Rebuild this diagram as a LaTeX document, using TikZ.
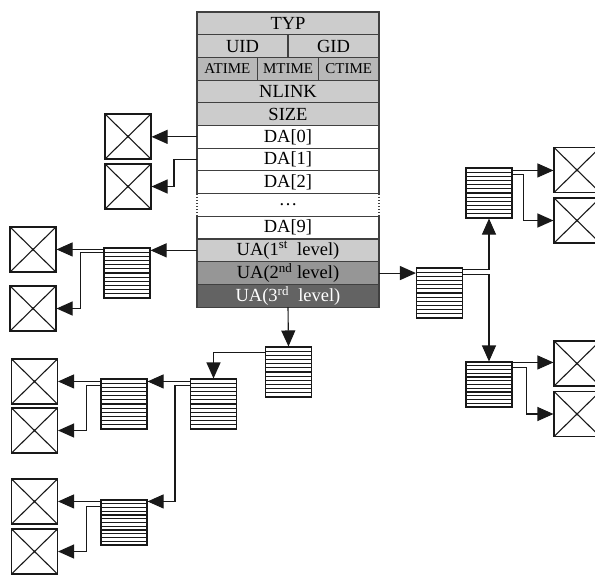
\documentclass[tikz,border=0pt]{standalone}
\usepackage{fontspec}
\setmainfont{Liberation Serif}
\usetikzlibrary{arrows.meta,positioning,calc}
\definecolor{rowgray}{gray}{0.8}
\definecolor{timegray}{gray}{0.72}
\definecolor{ualight}{gray}{0.8}
\definecolor{uamid}{gray}{0.59}
\definecolor{uadark}{gray}{0.39}

\begin{document}
\begin{tikzpicture}[
    x=1pt, y=-1pt,
    line width=1.1pt,
    row/.style={rectangle, draw=black!75, inner sep=0pt, outer sep=0pt, minimum height=22.7pt, minimum width=182pt, font=\fontsize{18.5}{20}\selectfont},
    half/.style={row, minimum width=91pt},
    third/.style={row, minimum width=60.67pt, font=\fontsize{15}{17}\selectfont},
    xbox/.style={rectangle, draw=black!90, minimum width=46pt, minimum height=45pt, inner sep=0pt,
        path picture={\draw[black!90] (path picture bounding box.north west) -- (path picture bounding box.south east)
            (path picture bounding box.north east) -- (path picture bounding box.south west);}},
    iblock/.style={rectangle, draw=black!90, minimum width=46pt, minimum height=50pt, inner sep=0pt,
        path picture={\foreach \k in {1,...,11}
            \draw[black!90] ($(path picture bounding box.north west)!\k/12!(path picture bounding box.south west)$)
            -- ($(path picture bounding box.north east)!\k/12!(path picture bounding box.south east)$);}},
    ptr/.style={-{Triangle[length=16pt,width=14pt]}, draw=black!90}
]
    \clip (0,0) rectangle (595,574);

    \node [row, fill=rowgray, anchor=north west] (typ) at (197,12) {TYP};
    \node [half, fill=rowgray, anchor=north west] (uid) at (typ.south west) {UID};
    \node [half, fill=rowgray, right=0pt of uid] (gid) {GID};
    \node [third, fill=timegray, anchor=north west] (atime) at (uid.south west) {ATIME};
    \node [third, fill=timegray, right=0pt of atime] (mtime) {MTIME};
    \node [third, fill=timegray, right=0pt of mtime] (ctime) {CTIME};
    \node [row, fill=rowgray, anchor=north west] (nlink) at (atime.south west) {NLINK};
    \node [row, fill=rowgray, below=0pt of nlink] (size) {SIZE};
    \node [row, fill=white, below=0pt of size] (da0) {DA[0]};
    \node [row, fill=white, below=0pt of da0] (da1) {DA[1]};
    \node [row, fill=white, below=0pt of da1] (da2) {DA[2]};
    \node [row, draw=none, below=0pt of da2] (dots) {\dots};
    \node [row, fill=white, below=0pt of dots] (da9) {DA[9]};
    \node [row, fill=ualight, below=0pt of da9] (ua1) {UA(1\textsuperscript{st}\ \ level)};
    \node [row, fill=uamid, below=0pt of ua1] (ua2) {UA(2\textsuperscript{nd} level)};
    \node [row, fill=uadark, text=white, below=0pt of ua2] (ua3) {UA(3\textsuperscript{rd}\ \ level)};
    \draw [dotted, black!75] (dots.north west) -- (dots.south west) (dots.north east) -- (dots.south east);

    \node [xbox] (xa1) at (128,136.5) {};
    \node [xbox] (xa2) at (128,186.5) {};
    \node [iblock] (ia1) at (127,273) {};
    \node [xbox] (xb1) at (33,249.5) {};
    \node [xbox] (xb2) at (33,308.5) {};

    \node [iblock] (ia2) at (439.5,293) {};
    \node [iblock] (ib1) at (489,193) {};
    \node [iblock, minimum height=45pt] (ib2) at (489,384.5) {};
    \node [xbox] (xc1) at (577,170) {};
    \node [xbox] (xc2) at (577,220.5) {};
    \node [xbox] (xd1) at (577,363.5) {};
    \node [xbox] (xd2) at (577,414) {};

    \node [iblock] (ic) at (288.5,372) {};
    \node [iblock] (ie) at (213.5,404) {};
    \node [iblock] (if) at (124,404) {};
    \node [iblock, minimum height=45pt] (ig) at (124,522.5) {};
    \node [xbox] (xe1) at (34.5,381.5) {};
    \node [xbox] (xe2) at (34.5,430.5) {};
    \node [xbox] (xf1) at (34.5,501.5) {};
    \node [xbox] (xf2) at (34.5,551.5) {};

    \draw [ptr] (da0.west) -- (da0.west -| xa1.east);
    \draw [ptr] (da1.west) -- ++(-23,0) |- (xa2.east);

    \draw [ptr] (ua1.west) -- (ua1.west -| ia1.east);
    \draw [ptr] ([yshift=-2pt]ia1.north west) -- ([yshift=-2pt]ia1.north west -| xb1.east);
    \draw [ptr] ([yshift=-5pt]ia1.north west) -- ++(-23,0) |- (xb2.east);

    \draw [ptr] (ua2.east) -- (ua2.east -| ia2.west);
    \draw [ptr] ([yshift=-2pt]ia2.north east) -| (ib1.south);
    \draw [ptr] ([yshift=-7pt]ia2.north east) -| (ib2.north);
    \draw [ptr] ([yshift=-3pt]ib1.north east) -- ([yshift=-3pt]ib1.north east -| xc1.west);
    \draw [ptr] ([yshift=-7pt]ib1.north east) -- ++(11,0) |- (xc2.west);
    \draw [ptr] ([yshift=-1pt]ib2.north east) -- ([yshift=-1pt]ib2.north east -| xd1.west);
    \draw [ptr] ([yshift=-6pt]ib2.north east) -- ++(14,0) |- (xd2.west);

    \draw [ptr] (ua3.south) -- (ic.north);
    \draw [ptr] ([yshift=-6pt]ic.north west) -| (ie.north);
    \draw [ptr] ([yshift=-3pt]ie.north west) -- ([yshift=-3pt]if.north east);
    \draw [ptr] ([yshift=-7pt]ie.north west) -- ++(-15,0) |- ([yshift=-2pt]ig.north east);
    \draw [ptr] ([yshift=-3pt]if.north west) -- ([yshift=-3pt]if.north west -| xe1.east);
    \draw [ptr] ([yshift=-7pt]if.north west) -- ++(-14,0) |- (xe2.east);
    \draw [ptr] ([yshift=-2pt]ig.north west) -- ([yshift=-2pt]ig.north west -| xf1.east);
    \draw [ptr] ([yshift=-7pt]ig.north west) -- ++(-14,0) |- (xf2.east);
\end{tikzpicture}
\end{document}
